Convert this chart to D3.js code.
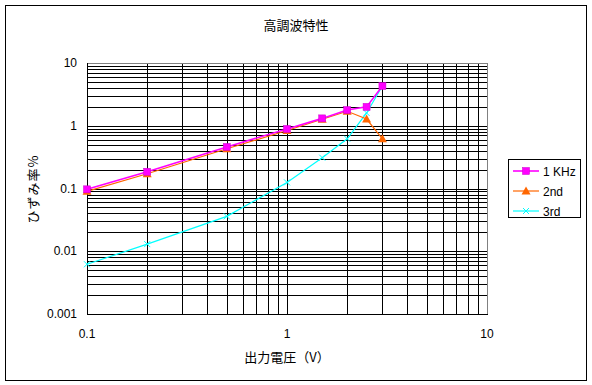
<!DOCTYPE html>
<html>
<head>
<meta charset="utf-8">
<script src="https://cdn.jsdelivr.net/npm/d3@7"></script>
<style>
  body { margin: 0; background: #fff; }
  text { font-family: "Liberation Sans", Arial, "Noto Sans CJK JP", sans-serif; fill: #000; }
  .jp { font-family: "Noto Sans CJK JP", sans-serif; }
</style>
</head>
<body>
<div id="plot"></div>
<script>
// data
const voltages = [0.1, 0.2, 0.5, 1, 1.5, 2, 2.5, 3];
const khz1 = [0.097, 0.185, 0.46, 0.89, 1.31, 1.78, 2.0, 4.3];
const second = [0.09, 0.172, 0.43, 0.84, 1.27, 1.7, 1.28, 0.62];
const third = [0.0062, 0.013, 0.036, 0.125, 0.31, 0.62, 1.6, 4.3];
const seriesNames = ["1 KHz", "2nd", "3rd"];
const xTicks = [0.1, 1, 10];
const yTicks = [0.001, 0.01, 0.1, 1, 10];

const W = 592, H = 385;
const plotL = 87, plotR = 487, plotT = 63, plotB = 314;

const svg = d3.select("#plot").append("svg")
    .attr("width", W)
    .attr("height", H);

// outer border
svg.append("rect")
    .attr("x", 5.5).attr("y", 5.5)
    .attr("width", 581).attr("height", 375)
    .attr("fill", "none").attr("stroke", "#000");

const x = d3.scaleLog().domain([0.1, 10]).range([plotL, plotR]);
const y = d3.scaleLog().domain([0.001, 10]).range([plotB, plotT]);

// grid: every 1..9 of each decade
const xGrid = [];
for (let d = 0.1; d < 10; d *= 10) for (let k = 1; k < 10; k++) xGrid.push(+(d * k).toPrecision(3));
const yGrid = [];
for (let d = 0.001; d < 10; d *= 10) for (let k = 1; k < 10; k++) yGrid.push(+(d * k).toPrecision(3));

svg.append("g").selectAll("line").data(xGrid).enter().append("line")
    .attr("x1", d => Math.round(x(d)) + 0.5).attr("x2", d => Math.round(x(d)) + 0.5)
    .attr("y1", plotT).attr("y2", plotB)
    .attr("stroke", "#000");

svg.append("g").selectAll("line").data(yGrid).enter().append("line")
    .attr("x1", plotL).attr("x2", plotR)
    .attr("y1", d => Math.round(y(d)) + 0.5).attr("y2", d => Math.round(y(d)) + 0.5)
    .attr("stroke", "#000");

// plot frame (top/right gray)
svg.append("line").attr("x1", plotL).attr("x2", plotR + 0.5).attr("y1", plotT + 0.5).attr("y2", plotT + 0.5).attr("stroke", "#808080");
svg.append("line").attr("x1", plotR + 0.5).attr("x2", plotR + 0.5).attr("y1", plotT).attr("y2", plotB).attr("stroke", "#808080");
svg.append("line").attr("x1", plotL + 0.5).attr("x2", plotL + 0.5).attr("y1", plotT).attr("y2", plotB + 1).attr("stroke", "#000");
svg.append("line").attr("x1", plotL).attr("x2", plotR + 1).attr("y1", plotB + 0.5).attr("y2", plotB + 0.5).attr("stroke", "#000");

// tick labels
svg.append("g").selectAll("text").data(yTicks).enter().append("text")
    .attr("x", plotL - 10)
    .attr("y", d => y(d) + 4)
    .attr("text-anchor", "end")
    .attr("font-size", 12)
    .text(d => d);

svg.append("g").selectAll("text").data(xTicks).enter().append("text")
    .attr("x", d => x(d))
    .attr("y", 338)
    .attr("text-anchor", "middle")
    .attr("font-size", 12)
    .text(d => d);

// titles
svg.append("text").attr("class", "jp")
    .attr("x", 296).attr("y", 30)
    .attr("text-anchor", "middle")
    .attr("font-size", 13)
    .text("高調波特性");

svg.append("text").attr("class", "jp")
    .attr("x", 287).attr("y", 362)
    .attr("text-anchor", "middle")
    .attr("font-size", 13)
    .text("出力電圧（V）");

svg.append("text").attr("class", "jp")
    .attr("transform", "translate(38,189) rotate(-90)")
    .attr("text-anchor", "middle")
    .attr("font-size", 13)
    .attr("letter-spacing", 1)
    .text("ひずみ率%");

// series
const colors = ["#FF00FF", "#FF6600", "#00FFFF"];
const series = [khz1, second, third];
const line = d3.line().x(d => x(d[0])).y(d => y(d[1]));

function marker(g, i, cx, cy) {
    if (i === 0) {
        g.append("rect").attr("x", cx - 3.5).attr("y", cy - 3.5)
            .attr("width", 7).attr("height", 7)
            .attr("fill", colors[0]).attr("stroke", "#cc00cc").attr("stroke-width", 0.5);
    } else if (i === 1) {
        g.append("path")
            .attr("d", `M${cx},${cy - 4.5}L${cx + 4.5},${cy + 3.5}L${cx - 4.5},${cy + 3.5}Z`)
            .attr("fill", colors[1]);
    } else {
        g.append("path")
            .attr("d", `M${cx - 3},${cy - 3}L${cx + 3},${cy + 3}M${cx - 3},${cy + 3}L${cx + 3},${cy - 3}`)
            .attr("stroke", colors[2]).attr("stroke-width", 1).attr("fill", "none");
    }
}

// 3rd, then 2nd, then 1 KHz on top
[2, 1, 0].forEach(i => {
    const pts = voltages.map((v, j) => [v, series[i][j]]);
    const g = svg.append("g");
    g.append("path")
        .attr("d", line(pts))
        .attr("fill", "none")
        .attr("stroke", colors[i])
        .attr("stroke-width", i === 0 ? 1.6 : 1.2);
    pts.forEach(p => marker(g, i, x(p[0]), y(p[1])));
});

// legend
const lg = svg.append("g");
lg.append("rect")
    .attr("x", 508.5).attr("y", 159.5)
    .attr("width", 72).attr("height", 58)
    .attr("fill", "#fff").attr("stroke", "#000");

seriesNames.forEach((name, i) => {
    const ly = 171 + i * 20;
    lg.append("line")
        .attr("x1", 513).attr("x2", 539)
        .attr("y1", ly).attr("y2", ly)
        .attr("stroke", colors[i]).attr("stroke-width", i === 0 ? 1.6 : 1.2);
    marker(lg, i, 526, ly);
    lg.append("text")
        .attr("x", 543).attr("y", ly + 4.5)
        .attr("font-size", 12)
        .text(name);
});
</script>
</body>
</html>
